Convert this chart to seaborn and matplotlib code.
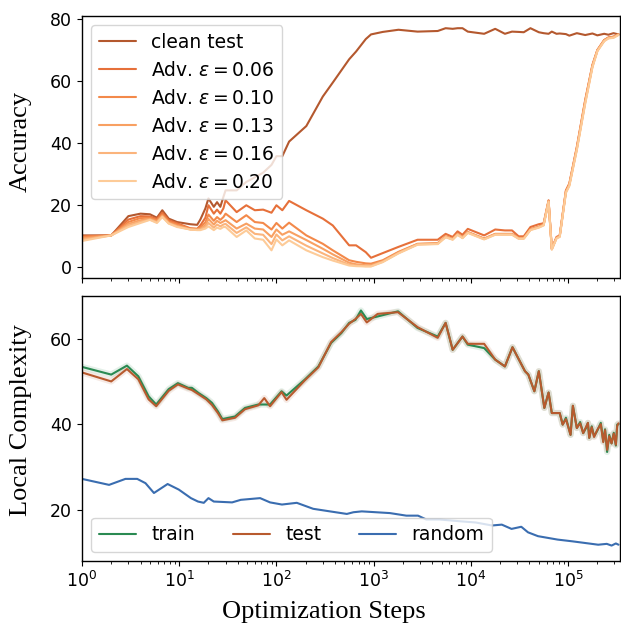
import numpy as np
import pandas as pd
import matplotlib
matplotlib.use("Agg")
import matplotlib.pyplot as plt
import seaborn as sns

# ---------------- data ----------------
steps_acc = [1, 2, 3, 4, 5, 5.9, 6.7, 7.8, 9.5, 13,
             15.3, 16.5, 18.6, 20, 22.7, 24.5, 26.5, 28.5, 30, 39,
             49, 60, 73, 89, 100, 115, 135, 203, 300, 380,
             560, 660, 830, 940, 1240, 1800, 2830, 4560, 5500, 6500,
             7300, 8200, 9300, 13700, 17800, 22400, 26500, 31000, 35000, 41000,
             50000, 56000, 63000, 68000, 76000, 82000, 95000, 103000, 123000, 150000,
             178000, 200000, 235000, 260000, 293000, 330000]

clean_test = [10.3, 10.3, 16.5, 17.3, 17.1, 16.0, 18.4, 15.7, 14.6, 13.9,
              13.7, 15.4, 19.0, 22.2, 19.5, 21.0, 19.5, 22.7, 24.8, 24.8,
              27.5, 29.0, 30.5, 33.0, 35.8, 35.8, 40.5, 45.5, 55.0, 59.5,
              67.0, 69.5, 73.5, 75.0, 75.8, 76.5, 75.9, 76.1, 77.0, 76.8,
              77.0, 77.0, 75.9, 75.2, 76.8, 75.2, 75.9, 75.8, 75.7, 77.0,
              75.7, 75.4, 75.2, 75.9, 75.2, 75.3, 75.1, 74.6, 75.4, 74.8,
              75.3, 74.7, 75.2, 74.9, 75.4, 75.0]

adv_006 = [10.0, 10.3, 15.4, 16.5, 16.4, 15.6, 17.6, 15.2, 14.2, 12.6,
           12.4, 13.5, 16.0, 20.0, 17.3, 18.6, 17.3, 19.0, 21.6, 17.8,
           20.0, 18.4, 18.6, 17.6, 20.0, 18.4, 21.4, 18.4, 15.7, 13.5,
           7.1, 7.1, 4.9, 3.1, 4.6, 6.6, 8.9, 8.9, 10.8, 9.8,
           11.6, 10.5, 12.4, 10.3, 12.2, 11.9, 11.9, 10.0, 10.0, 13.0,
           13.9, 14.2, 21.6, 6.0, 9.8, 10.3, 24.8, 27.0, 38.8, 53.9,
           65.2, 70.0, 73.2, 74.0, 74.3, 75.0]

adv_010 = [9.8, 10.3, 14.6, 15.9, 16.0, 15.2, 17.0, 14.8, 13.8, 12.5,
           12.4, 12.9, 14.5, 17.0, 15.0, 16.2, 15.3, 16.2, 17.3, 14.6,
           16.8, 14.6, 14.3, 12.2, 14.3, 12.5, 14.4, 10.3, 7.6, 5.5,
           2.3, 1.8, 1.3, 1.2, 2.3, 5.0, 7.6, 7.8, 10.0, 9.2,
           10.8, 9.7, 11.4, 9.3, 10.8, 10.8, 10.8, 9.5, 9.5, 12.3,
           13.1, 13.8, 21.4, 6.0, 9.6, 10.1, 24.6, 26.8, 38.5, 53.6,
           65.0, 69.9, 73.1, 74.0, 74.2, 75.0]

adv_013 = [9.3, 10.3, 14.0, 15.2, 15.6, 14.8, 16.6, 14.4, 13.4, 12.3,
           12.2, 12.5, 13.5, 15.6, 13.8, 15.0, 14.3, 14.8, 15.2, 12.5,
           14.1, 12.5, 12.2, 9.8, 12.2, 10.5, 11.6, 8.8, 6.0, 4.2,
           1.5, 1.0, 0.7, 0.7, 2.0, 4.8, 7.5, 7.7, 9.9, 9.1,
           10.7, 9.6, 11.3, 9.2, 10.7, 10.7, 10.7, 9.4, 9.4, 12.2,
           13.0, 13.7, 21.3, 5.9, 9.5, 10.0, 24.4, 26.6, 38.2, 53.3,
           64.8, 69.8, 73.0, 73.9, 74.1, 75.0]

adv_016 = [8.9, 10.3, 13.5, 14.7, 15.4, 14.5, 16.4, 14.2, 13.2, 12.2,
           12.1, 12.2, 13.0, 14.3, 12.8, 13.8, 13.2, 13.8, 14.0, 11.1,
           12.9, 10.8, 10.5, 7.5, 10.6, 8.7, 10.0, 7.0, 4.5, 3.0,
           0.9, 0.6, 0.4, 0.4, 1.8, 4.6, 7.4, 7.6, 9.8, 9.0,
           10.6, 9.5, 11.2, 9.1, 10.6, 10.6, 10.6, 9.3, 9.3, 12.1,
           12.9, 13.6, 21.2, 5.8, 9.4, 9.9, 24.2, 26.4, 38.0, 53.0,
           64.6, 69.7, 72.9, 73.8, 74.0, 74.9]

adv_020 = [8.5, 10.3, 13.0, 14.3, 15.3, 14.3, 16.2, 14.1, 13.0, 12.2,
           12.0, 12.0, 12.5, 13.2, 12.0, 12.8, 12.4, 13.0, 13.0, 9.8,
           11.9, 9.3, 8.9, 5.5, 9.0, 7.1, 8.7, 5.5, 3.3, 2.2,
           0.6, 0.4, 0.3, 0.3, 1.7, 4.5, 7.3, 7.5, 9.7, 8.9,
           10.5, 9.4, 11.1, 9.0, 10.5, 10.5, 10.5, 9.2, 9.2, 12.0,
           12.8, 13.5, 21.1, 5.7, 9.3, 9.8, 24.0, 26.2, 37.8, 52.7,
           64.4, 69.6, 72.8, 73.7, 73.9, 74.8]

acc_labels = ["clean test", r"Adv. $\varepsilon=0.06$", r"Adv. $\varepsilon=0.10$",
              r"Adv. $\varepsilon=0.13$", r"Adv. $\varepsilon=0.16$", r"Adv. $\varepsilon=0.20$"]

steps_lc = [1, 2, 2.9, 3.8, 4.85, 5.8, 7.8, 9.7, 12.4, 13.5,
            15.8, 19, 21.7, 25, 27.8, 37.5, 47.5, 65, 75, 86,
            113, 127, 195, 270, 365, 465, 560, 650, 740, 850,
            1100, 1780, 2830, 4560, 5500, 6500, 8200, 9300, 13700, 17800,
            22400, 26800, 36000, 39000, 45000, 50000, 57000, 63000, 68000, 76000,
            82000, 88000, 95000, 106000, 112000, 123000, 133000, 143000, 152000, 160000,
            165000, 175000, 185000, 200000, 217000, 230000, 240000, 252000, 265000, 280000,
            295000, 310000, 320000, 330000]

lc_train = [53.4, 51.6, 53.7, 51.2, 46.5, 44.6, 48.2, 49.6, 48.5, 48.5,
            47.3, 46.1, 45.0, 43.0, 41.2, 41.8, 43.8, 44.6, 44.6, 44.6,
            47.7, 46.7, 50.4, 53.5, 59.0, 61.3, 63.7, 64.4, 66.6, 64.6,
            65.2, 66.4, 62.5, 60.5, 63.7, 57.4, 60.5, 58.6, 57.8, 55.1,
            53.5, 58.0, 52.4, 51.6, 47.7, 52.4, 43.8, 47.4, 42.6, 42.6,
            42.6, 39.9, 41.5, 37.5, 44.3, 39.1, 40.5, 37.9, 39.0, 40.3,
            36.8, 39.5, 37.2, 38.5, 40.3, 36.0, 38.8, 33.5, 37.5, 35.5,
            38.0, 35.0, 39.9, 40.0]

lc_test = [52.1, 50.0, 52.9, 50.5, 45.8, 44.2, 47.8, 49.3, 48.3, 48.0,
           47.0, 45.8, 44.5, 42.6, 40.9, 41.5, 43.5, 44.4, 46.1, 44.2,
           47.5, 45.7, 50.2, 53.3, 59.2, 61.5, 63.5, 64.6, 65.8, 63.8,
           65.8, 66.2, 62.7, 60.2, 63.7, 57.4, 60.5, 58.8, 58.8, 55.1,
           53.5, 58.0, 52.4, 51.6, 47.7, 52.4, 43.8, 47.4, 42.6, 42.6,
           42.6, 39.9, 41.2, 37.5, 44.3, 39.1, 40.2, 37.9, 39.2, 40.3,
           36.8, 39.3, 37.0, 38.7, 40.0, 35.8, 38.6, 34.0, 37.2, 35.5,
           37.8, 35.2, 39.6, 40.2]

steps_rand = [1, 1.9, 2.8, 3.7, 4.5, 5.5, 7.6, 9.9, 13.2, 15.6,
              17.9, 20, 22.7, 35, 43, 68, 86, 114, 162, 239,
              355, 530, 620, 755, 1470, 2170, 2860, 3480, 4770, 7600,
              11200, 16500, 20800, 26200, 33000, 38700, 49000, 78000, 110000, 150000,
              204000, 250000, 280000, 310000, 330000]
lc_random = [27.2, 25.8, 27.2, 27.2, 26.2, 23.9, 26.0, 24.7, 22.7, 21.9,
             21.6, 22.7, 21.9, 21.7, 22.3, 22.7, 21.7, 21.2, 21.6, 20.2,
             19.6, 19.0, 19.4, 19.6, 19.2, 18.6, 18.6, 17.7, 17.7, 17.3,
             17.0, 16.3, 16.5, 15.5, 16.0, 14.7, 13.8, 13.0, 12.6, 12.2,
             11.8, 12.0, 11.6, 12.1, 11.8]

# ---------------- styling ----------------
sns.set_style("ticks", rc={"text.color": "black", "xtick.color": "black",
                           "ytick.color": "black", "axes.labelcolor": "black",
                           "axes.edgecolor": "black"})
plt.rcParams["font.family"] = ["DejaVu Sans"]
plt.rcParams["xtick.labelsize"] = 12.5
plt.rcParams["ytick.labelsize"] = 12.5

acc_colors = ["#b4582e", "#e6703a", "#f3894a", "#f8a062", "#fbb47c", "#fdcb98"]
lc_colors = {"train": "#2a8a52", "test": "#b85a2e", "random": "#3a6db0"}
serif = {"family": "Liberation Serif", "size": 19}

# long-form frames
acc_series = [clean_test, adv_006, adv_010, adv_013, adv_016, adv_020]
acc_df = pd.concat([pd.DataFrame({"step": steps_acc, "value": v, "series": lab})
                    for v, lab in zip(acc_series, acc_labels)], ignore_index=True)
lc_df = pd.concat([
    pd.DataFrame({"step": steps_lc, "value": lc_train, "series": "train"}),
    pd.DataFrame({"step": steps_lc, "value": lc_test, "series": "test"}),
    pd.DataFrame({"step": steps_rand, "value": lc_random, "series": "random"}),
], ignore_index=True)

fig = plt.figure(figsize=(6.21, 6.31), dpi=100)
ax1 = fig.add_axes([0.132, 0.559, 0.866, 0.416])
ax2 = fig.add_axes([0.132, 0.111, 0.866, 0.420], sharex=ax1)

sns.lineplot(data=acc_df, x="step", y="value", hue="series", hue_order=acc_labels,
             palette=acc_colors, estimator=None, lw=1.5, ax=ax1)

# faint halo under train/test lines
for name in ["train", "test"]:
    sub = lc_df[lc_df.series == name]
    ax2.plot(sub.step, sub.value, color=lc_colors[name], lw=4.5, alpha=0.12,
             solid_capstyle="round", zorder=1)
sns.lineplot(data=lc_df, x="step", y="value", hue="series",
             hue_order=["train", "test", "random"], palette=lc_colors,
             estimator=None, lw=1.5, ax=ax2, zorder=2)

ax1.set_xscale("log")
ax1.set_xlim(1, 3.4e5)
ax1.set_ylim(-3.5, 81)
ax1.set_yticks([0, 20, 40, 60, 80])
ax2.set_ylim(8, 70)
ax2.set_yticks([20, 40, 60])

ax1.tick_params(labelbottom=False)
ax1.set_xlabel("")
ax1.set_ylabel("Accuracy", fontdict=serif)
ax2.set_ylabel("Local Complexity", fontdict=serif)
ax2.set_xlabel("Optimization Steps", fontdict=serif)
ax1.yaxis.set_label_coords(-0.093, 0.52)
ax2.yaxis.set_label_coords(-0.093, 0.53)
ax2.xaxis.set_label_coords(0.45, -0.151)

for ax in (ax1, ax2):
    for s in ax.spines.values():
        s.set_linewidth(1.0)

leg1 = ax1.legend(loc="upper left", fontsize=13.5, frameon=True, framealpha=0.8,
                  borderpad=0.4, labelspacing=0.48, handlelength=2.0)
for l in leg1.get_lines():
    l.set_linewidth(1.5)
leg2 = ax2.legend(loc="lower left", ncol=3, fontsize=13.5, frameon=True,
                  framealpha=0.8, columnspacing=2.0, handlelength=2.0)
for l in leg2.get_lines():
    l.set_linewidth(1.5)

fig.savefig("out.png", dpi=100)
